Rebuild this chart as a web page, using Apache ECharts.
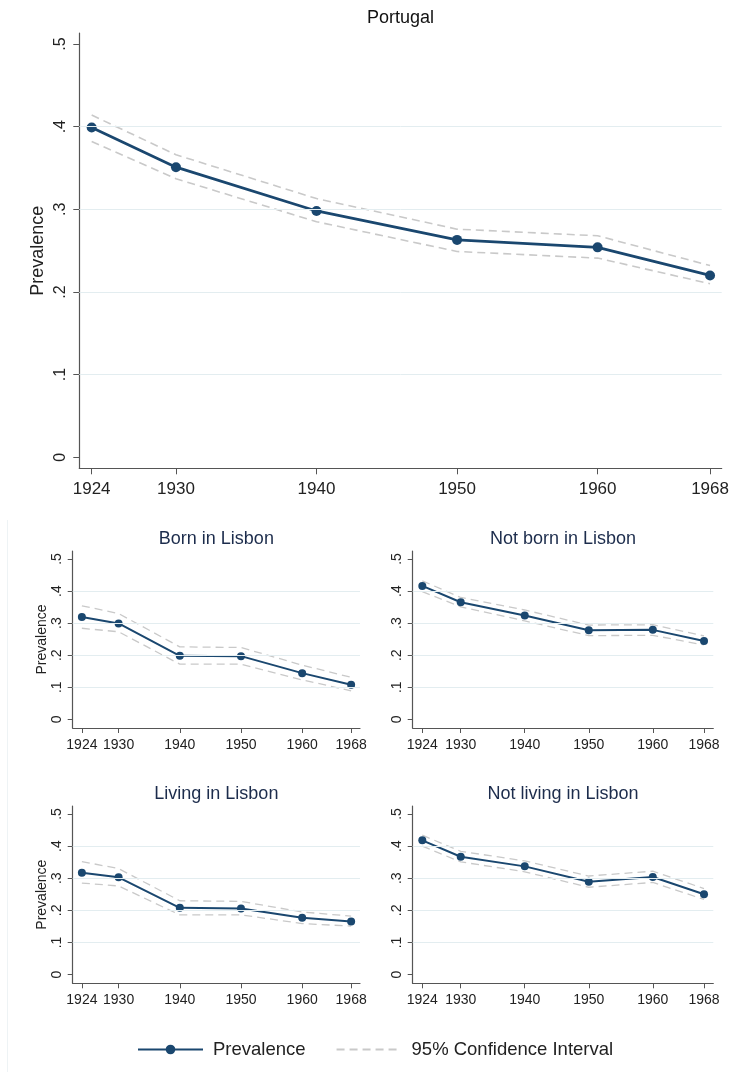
<!DOCTYPE html>
<html lang="en">
<head>
<meta charset="UTF-8">
<title>Prevalence by birth cohort</title>
<script src="https://cdn.jsdelivr.net/npm/echarts@6/dist/echarts.min.js"></script>
<style>
  html, body { margin: 0; padding: 0; background: #fff; }
  #chart { width: 733px; height: 1072px; }
</style>
</head>
<body>
<div id="chart"></div>
<script>
// birth cohorts on the x axis
const years = [1924, 1930, 1940, 1950, 1960, 1968];
const yTicks = [0, 0.1, 0.2, 0.3, 0.4, 0.5];
const gridValues = [0.1, 0.2, 0.3, 0.4];

const titles = ['Portugal', 'Born in Lisbon', 'Not born in Lisbon', 'Living in Lisbon', 'Not living in Lisbon'];

// prevalence and 95% CI
const portugal   = [0.399, 0.351, 0.298, 0.263, 0.254, 0.220];
const portugalHi = [0.414, 0.366, 0.313, 0.276, 0.268, 0.232];
const portugalLo = [0.382, 0.337, 0.285, 0.249, 0.241, 0.210];

const bornLx   = [0.319, 0.299, 0.198, 0.197, 0.144, 0.108];
const bornLxHi = [0.354, 0.330, 0.226, 0.224, 0.169, 0.131];
const bornLxLo = [0.284, 0.273, 0.172, 0.172, 0.123, 0.089];

const notBornLx   = [0.416, 0.365, 0.324, 0.278, 0.279, 0.244];
const notBornLxHi = [0.432, 0.380, 0.341, 0.294, 0.295, 0.260];
const notBornLxLo = [0.398, 0.351, 0.307, 0.261, 0.262, 0.232];

const livingLx   = [0.317, 0.303, 0.208, 0.206, 0.177, 0.165];
const livingLxHi = [0.352, 0.330, 0.230, 0.228, 0.195, 0.182];
const livingLxLo = [0.285, 0.276, 0.186, 0.186, 0.159, 0.151];

const notLivingLx   = [0.418, 0.367, 0.337, 0.289, 0.304, 0.250];
const notLivingLxHi = [0.434, 0.384, 0.354, 0.307, 0.322, 0.268];
const notLivingLxLo = [0.400, 0.351, 0.320, 0.272, 0.287, 0.234];

const panelData = [
  [portugal, portugalHi, portugalLo],
  [bornLx, bornLxHi, bornLxLo],
  [notBornLx, notBornLxHi, notBornLxLo],
  [livingLx, livingLxHi, livingLxLo],
  [notLivingLx, notLivingLxHi, notLivingLxLo]
];

// layout of the five plot regions
const boxes = [
  { left: 79.3, top: 33, width: 642.4, height: 435.3, big: true, ytitle: true },
  { left: 72.7, top: 551, width: 287.3, height: 177, big: false, ytitle: true },
  { left: 412.7, top: 551, width: 300.6, height: 177, big: false, ytitle: false },
  { left: 72.7, top: 806, width: 287.3, height: 177.3, big: false, ytitle: true },
  { left: 412.7, top: 806, width: 300.6, height: 177.3, big: false, ytitle: false }
];

const NAVY = '#1a476f';
const CI = '#c9c9c9';
const AXIS = '#555';
const FONT = '"Liberation Sans", Arial, sans-serif';

const pairs = arr => years.map((y, i) => [y, arr[i]]);
const yFmt = v => (v === 0 ? '0' : v.toFixed(1).replace(/^0/, ''));

let grid = [], xAxis = [], yAxis = [], series = [], title = [];

boxes.forEach((b, i) => {
  grid.push({ left: b.left, top: b.top, width: b.width, height: b.height, containLabel: false });

  xAxis.push({
    type: 'value', gridIndex: i,
    min: b.big ? 1923.12 : 1922.5,
    max: b.big ? 1968.83 : 1969.45,
    axisLine: { show: true, onZero: false, lineStyle: { color: AXIS, width: 1.2 } },
    axisTick: { show: true, length: b.big ? 6 : 5, customValues: years, lineStyle: { color: AXIS } },
    axisLabel: { customValues: years, margin: b.big ? 13 : 10, color: '#222',
      fontSize: b.big ? 17 : 14, fontFamily: FONT, formatter: v => String(v) },
    splitLine: { show: false }
  });

  yAxis.push({
    type: 'value', gridIndex: i,
    min: b.big ? -0.0133 : -0.0271,
    max: b.big ? 0.5133 : 0.525,
    name: b.ytitle ? 'Prevalence' : '',
    nameLocation: 'middle',
    nameGap: b.big ? 32 : 24,
    nameMoveOverlap: false,
    nameTextStyle: { color: '#222', fontSize: b.big ? 18 : 14, fontFamily: FONT },
    axisLine: { show: true, onZero: false, lineStyle: { color: AXIS, width: 1.2 } },
    axisTick: { show: true, length: b.big ? 6 : 5, customValues: yTicks, lineStyle: { color: AXIS } },
    axisLabel: { customValues: yTicks, rotate: 90, margin: b.big ? 11 : 9, color: '#222',
      fontSize: b.big ? 16 : 14, fontFamily: FONT, formatter: yFmt },
    splitLine: { show: false }
  });

  title.push({
    text: titles[i],
    left: b.left + b.width / 2,
    top: b.big ? 9 : b.top - 21,
    textAlign: 'center',
    padding: 0,
    textStyle: { fontSize: 18, fontWeight: 'normal', fontFamily: FONT, color: b.big ? '#111' : '#1c2c4c' }
  });

  const [est, hi, lo] = panelData[i];
  const ciStyle = { color: CI, width: b.big ? 1.6 : 1.3, type: [8, 5] };

  series.push({
    name: '95% Confidence Interval', type: 'line', xAxisIndex: i, yAxisIndex: i,
    data: pairs(lo), symbol: 'none', lineStyle: ciStyle, itemStyle: { color: CI }, z: 2,
    markLine: {
      silent: true, symbol: 'none', label: { show: false },
      lineStyle: { color: '#e3edf0', width: 1, type: 'solid' },
      data: gridValues.map(v => ({ yAxis: v }))
    }
  });
  series.push({
    name: '95% Confidence Interval', type: 'line', xAxisIndex: i, yAxisIndex: i,
    data: pairs(hi), symbol: 'none', lineStyle: ciStyle, itemStyle: { color: CI }, z: 2
  });
  series.push({
    name: 'Prevalence', type: 'line', xAxisIndex: i, yAxisIndex: i,
    data: pairs(est), symbol: 'circle', symbolSize: b.big ? 10 : 8,
    lineStyle: { color: NAVY, width: b.big ? 2.8 : 2 },
    itemStyle: { color: NAVY }, z: 4
  });
});

const chart = echarts.init(document.getElementById('chart'), null, { renderer: 'canvas' });
chart.setOption({
  animation: false,
  backgroundColor: '#fff',
  title: title,
  grid: grid,
  xAxis: xAxis,
  yAxis: yAxis,
  series: series,
  legend: {
    data: [
      { name: 'Prevalence' },
      { name: '95% Confidence Interval', itemStyle: { opacity: 0 } }
    ],
    left: 137, top: 1040, padding: 0,
    itemWidth: 65, itemHeight: 12, itemGap: 30,
    textStyle: { fontSize: 18.5, fontFamily: FONT, color: '#222', padding: [0, 0, 0, 5] }
  },
  graphic: [{
    type: 'line', silent: true,
    shape: { x1: 7.5, y1: 520, x2: 7.5, y2: 1072 },
    style: { stroke: '#eef3f5', lineWidth: 1 }
  }]
});
</script>
</body>
</html>
